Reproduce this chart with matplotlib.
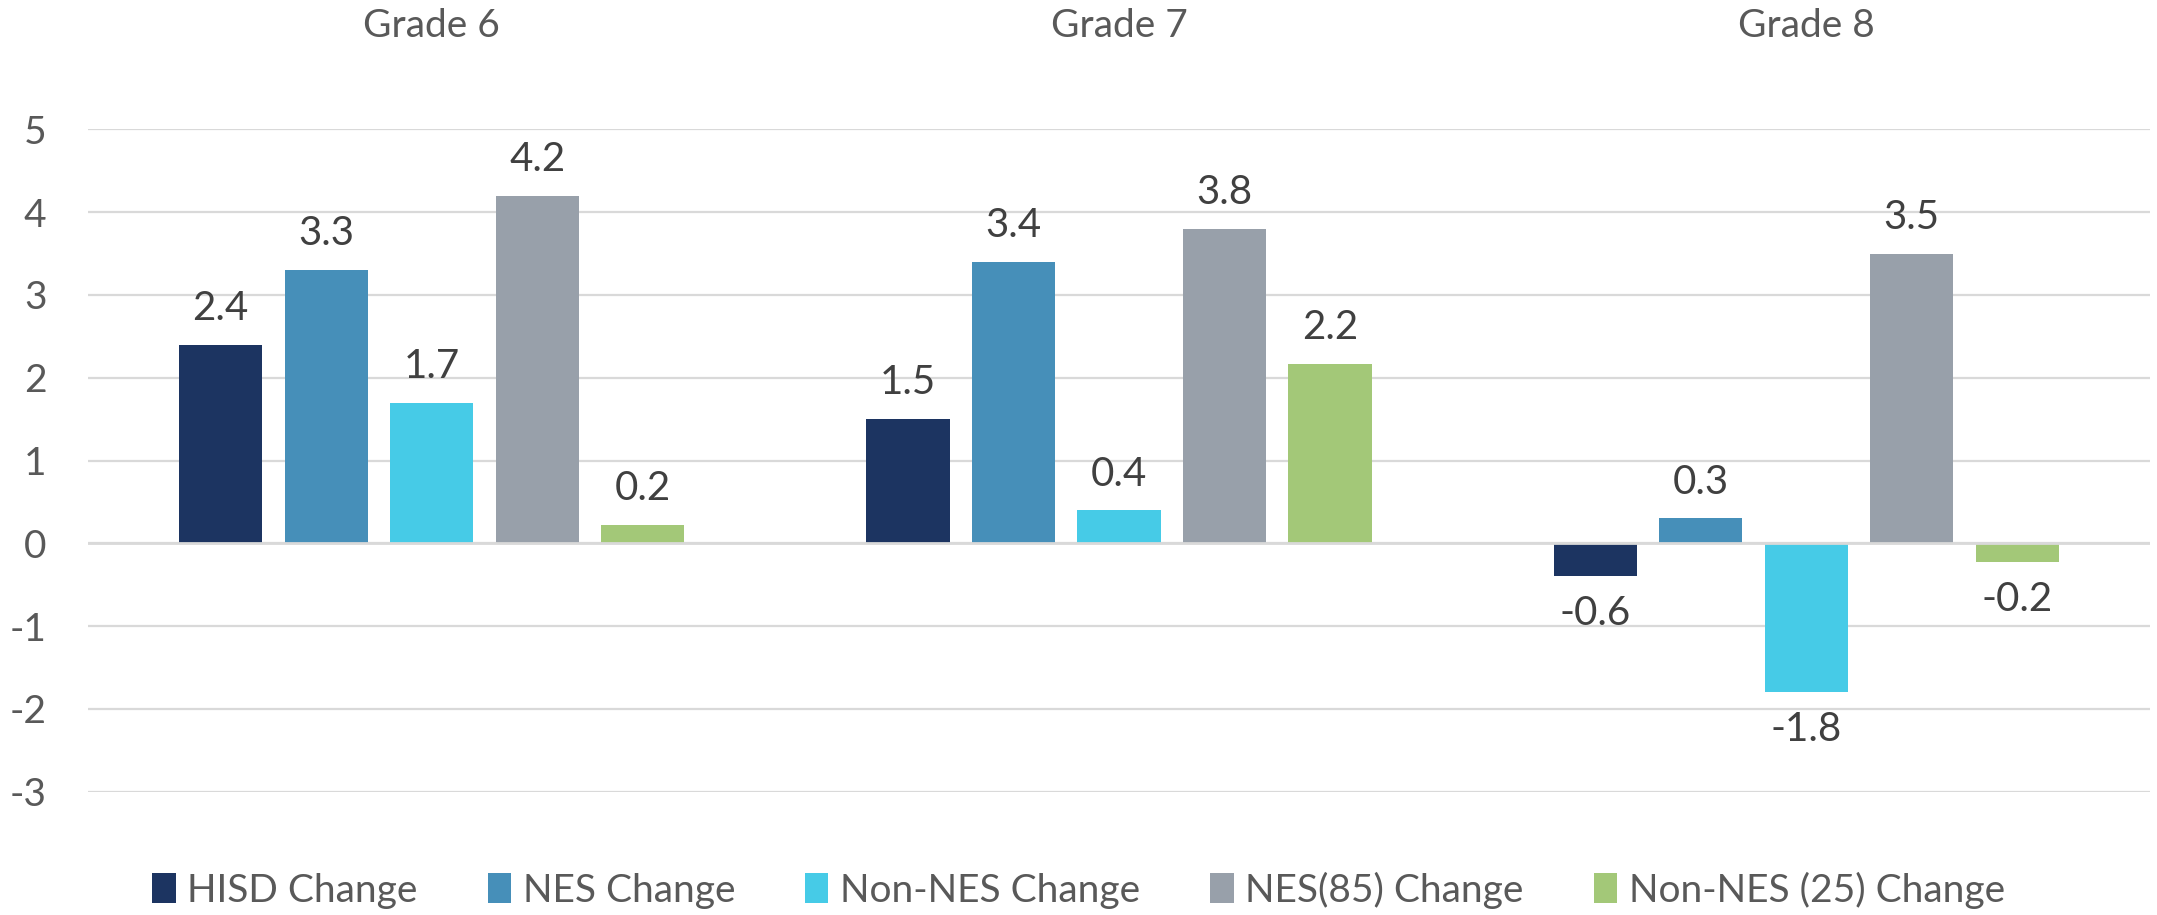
import matplotlib
matplotlib.use("Agg")
import matplotlib.pyplot as plt
import numpy as np
from matplotlib.patches import Patch

grades = ["Grade 6", "Grade 7", "Grade 8"]
series = ["HISD Change", "NES Change", "Non-NES Change", "NES(85) Change", "Non-NES (25) Change"]
hisd = [2.4, 1.5, -0.4]
nes = [3.3, 3.4, 0.3]
non_nes = [1.7, 0.4, -1.8]
nes85 = [4.2, 3.8, 3.5]
non_nes25 = [0.22, 2.17, -0.22]
hisd_labels = ["2.4", "1.5", "-0.6"]
nes_labels = ["3.3", "3.4", "0.3"]
non_nes_labels = ["1.7", "0.4", "-1.8"]
nes85_labels = ["4.2", "3.8", "3.5"]
non_nes25_labels = ["0.2", "2.2", "-0.2"]
yticks = [-3, -2, -1, 0, 1, 2, 3, 4, 5]

values = [hisd, nes, non_nes, nes85, non_nes25]
labels = [hisd_labels, nes_labels, non_nes_labels, nes85_labels, non_nes25_labels]
colors = ["#1c3461", "#468fb9", "#46cbe7", "#98a0aa", "#a3c878"]

plt.rcParams['font.family'] = ['Lato', 'DejaVu Sans']

fig = plt.figure(figsize=(21.57, 9.15), dpi=100)
ax = fig.add_axes([88/2157, 1-791.7/915, (2150-88)/2157, (791.7-129.3)/915])

x = np.arange(len(grades))
step = 0.1535
width = 0.1208
for j, (vals, labs, col, name) in enumerate(zip(values, labels, colors, series)):
    xs = x + (j - 2) * step
    ax.bar(xs, vals, width=width, color=col, zorder=2, label=name)
    for xi, v, lab in zip(xs, vals, labs):
        off = 26 if v >= 0 else -27
        ax.annotate(lab, (xi, v), xytext=(0, off), textcoords="offset points",
                    ha="center", va="center", fontsize=29, color="#404040")

ax.set_xlim(-0.5, 2.5)
ax.set_ylim(-3, 5)
ax.set_yticks(yticks)
ax.set_yticklabels([str(t) for t in yticks])
ax.tick_params(axis="y", length=0, pad=30, labelsize=28, labelcolor="#595959")
ax.set_xticks([])
ax.grid(axis="y", color="#d9d9d9", linewidth=1.6, zorder=0)
ax.set_axisbelow(True)
ax.axhline(0, color="#d9d9d9", linewidth=2.0, zorder=3)
for s in ax.spines.values():
    s.set_visible(False)

for xi, g in zip(x, grades):
    ax.text(xi, 1 - 26/915, g, transform=matplotlib.transforms.blended_transform_factory(ax.transData, fig.transFigure),
            ha="center", va="center", fontsize=28, color="#595959")

handles = [Patch(facecolor=c, edgecolor="none") for c in colors]
fig.legend(handles, series, loc="center", bbox_to_anchor=(0.5, 1 - 890/915), ncol=5,
           frameon=False, fontsize=28, labelcolor="#595959", handlelength=0.6, handleheight=0.8,
           handletextpad=0.3, columnspacing=1.8)

fig.savefig("out.png", dpi=100)
